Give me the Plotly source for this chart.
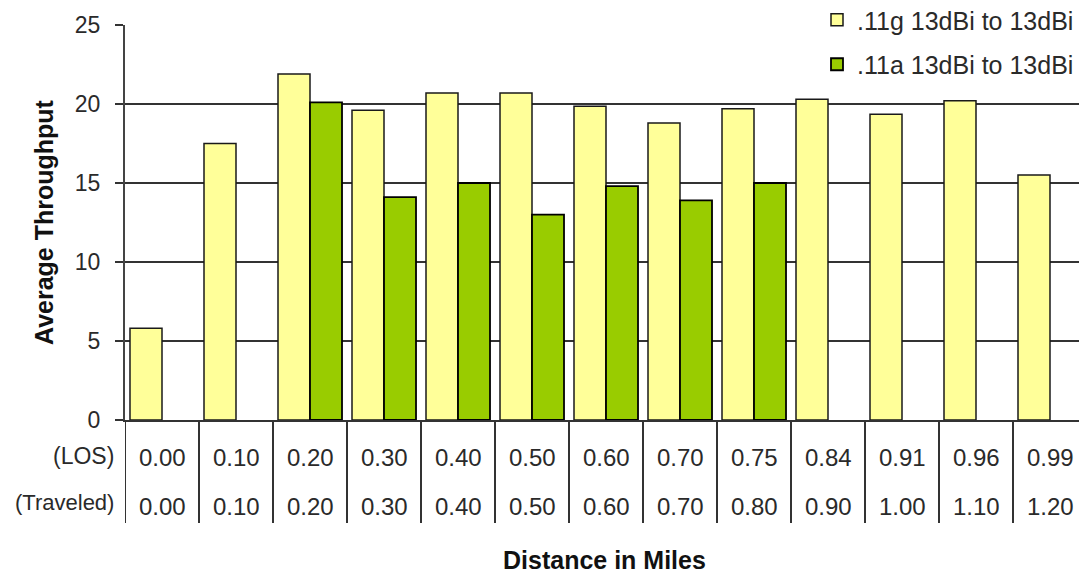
import plotly.graph_objects as go

los_labels = ["0.00", "0.10", "0.20", "0.30", "0.40", "0.50", "0.60", "0.70", "0.75", "0.84", "0.91", "0.96", "0.99"]
traveled_labels = ["0.00", "0.10", "0.20", "0.30", "0.40", "0.50", "0.60", "0.70", "0.80", "0.90", "1.00", "1.10", "1.20"]
g_values = [5.8, 17.5, 21.9, 19.6, 20.7, 20.7, 19.85, 18.8, 19.7, 20.3, 19.35, 20.2, 15.5]
a_values = [None, None, 20.1, 14.1, 15.0, 13.0, 14.8, 13.9, 15.0, None, None, None, None]
series_names = [".11g 13dBi to 13dBi", ".11a 13dBi to 13dBi"]
y_ticks = [0, 5, 10, 15, 20, 25]

W, H = 1079, 575
L, T, B = 125, 25, 155
plot_w = W - L
plot_h = H - T - B
FONT = "Liberation Sans, Arial, sans-serif"
TXT = "#2a2a2a"

x = list(range(len(los_labels)))

fig = go.Figure()
fig.add_trace(go.Bar(x=x, y=g_values, name=series_names[0], legendgroup="g",
                     marker=dict(color="#FFFF99", line=dict(color="#1a1a1a", width=1.5))))
fig.add_trace(go.Bar(x=x, y=a_values, name=series_names[1], legendgroup="a",
                     marker=dict(color="#99CC00", line=dict(color="#000000", width=1.8))))

def px_x(p):
    return (p - L) / plot_w

def px_y(p):
    return (H - B - p) / plot_h

shapes = []
# white block behind legend (covers top gridline)
shapes.append(dict(type="rect", xref="paper", yref="paper", x0=px_x(800), x1=px_x(1085),
                   y0=px_y(88), y1=px_y(-5), fillcolor="white", line=dict(width=0), layer="above"))
# table separators
for k in range(len(los_labels) + 1):
    shapes.append(dict(type="line", xref="x", yref="paper", x0=k - 0.5, x1=k - 0.5,
                       y0=0, y1=px_y(523), line=dict(color="#333333", width=2)))

annotations = []
for i, (a, b) in enumerate(zip(los_labels, traveled_labels)):
    annotations.append(dict(x=i, y=px_y(457), xref="x", yref="paper", text=a, showarrow=False,
                            font=dict(family=FONT, size=24, color=TXT), xanchor="center", yanchor="middle"))
    annotations.append(dict(x=i, y=px_y(506), xref="x", yref="paper", text=b, showarrow=False,
                            font=dict(family=FONT, size=24, color=TXT), xanchor="center", yanchor="middle"))
annotations.append(dict(x=px_x(116), y=px_y(456), xref="paper", yref="paper", text="(LOS)", showarrow=False,
                        font=dict(family=FONT, size=23, color=TXT), xanchor="right", yanchor="middle"))
annotations.append(dict(x=px_x(116), y=px_y(502), xref="paper", yref="paper", text="(Traveled)", showarrow=False,
                        font=dict(family=FONT, size=22, color=TXT), xanchor="right", yanchor="middle"))
annotations.append(dict(x=px_x(604), y=px_y(560), xref="paper", yref="paper", text="<b>Distance in Miles</b>",
                        showarrow=False, font=dict(family=FONT, size=25, color="#111111"),
                        xanchor="center", yanchor="middle"))
annotations.append(dict(x=px_x(44), y=px_y(222), xref="paper", yref="paper", text="<b>Average Throughput</b>",
                        showarrow=False, textangle=-90, font=dict(family=FONT, size=25, color="#111111"),
                        xanchor="center", yanchor="middle"))

span = plot_w / 74.0
fig.update_layout(
    width=W, height=H,
    margin=dict(l=L, r=0, t=T, b=B, autoexpand=False),
    paper_bgcolor="white", plot_bgcolor="white",
    barmode="group", bargap=0.135, bargroupgap=0,
    font=dict(family=FONT, size=22, color=TXT),
    showlegend=True,
    legend=dict(x=1, xanchor="right", xref="paper", y=px_y(-3), yanchor="top", yref="paper",
                bgcolor="rgba(0,0,0,0)", font=dict(family=FONT, size=25, color=TXT),
                traceorder="grouped", tracegroupgap=9, itemclick=False),
    xaxis=dict(range=[-0.5, -0.5 + span], showticklabels=False, ticks="", showgrid=False,
               zeroline=False, showline=True, linecolor="#333333", linewidth=2, fixedrange=True,
               automargin=False),
    yaxis=dict(range=[0, 25], tickvals=y_ticks, ticks="outside", ticklen=8, tickwidth=2,
               tickcolor="#333333", showgrid=True, gridcolor="#333333", gridwidth=1.5,
               showline=True, linecolor="#444444", linewidth=2, zeroline=False, automargin=False,
               tickfont=dict(family=FONT, size=23, color=TXT), ticklabelstandoff=10),
    shapes=shapes,
    annotations=annotations,
)

fig.write_html("out.html", config={"displayModeBar": False},
               post_script="document.body.style.margin='0px';")
